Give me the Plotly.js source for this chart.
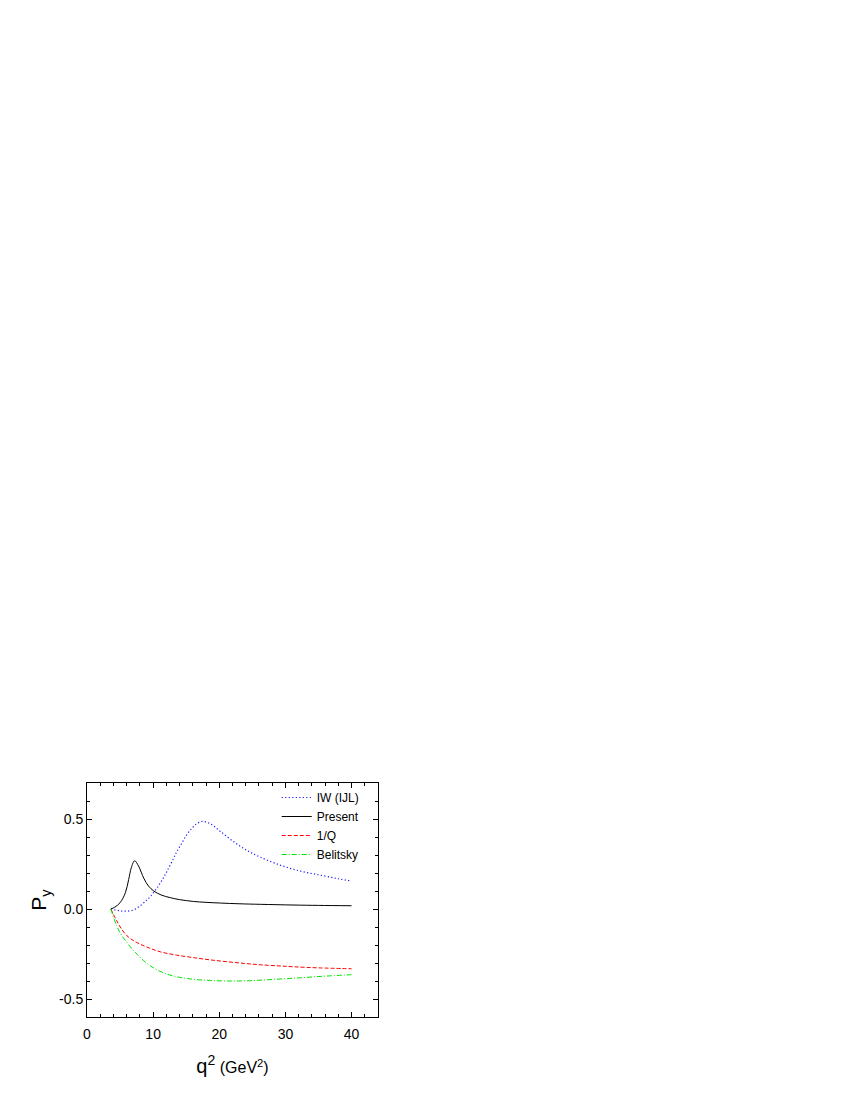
<!DOCTYPE html>
<html>
<head>
<meta charset="utf-8">
<script src="https://cdn.plot.ly/plotly-3.0.1.min.js"></script>
<style>
  body { margin: 0; background: #fff; }
  #chart { width: 850px; height: 1100px; }
</style>
</head>
<body>
<div id="chart"></div>
<script>
// values
const iwX = [3.6, 4.5, 5.2, 6.0, 7.0, 8.0, 9.0, 9.6, 10.6, 11.5, 12.1, 13.0, 13.6, 14.4, 15.1, 15.9, 16.6, 17.5, 18.7, 20.2, 22.2, 24.2, 26.2, 29.2, 32.3, 35.3, 38.0, 40.0];
const iwY = [0.0, -0.007, -0.011, -0.012, -0.006, 0.017, 0.048, 0.07, 0.118, 0.17, 0.21, 0.275, 0.32, 0.37, 0.413, 0.45, 0.474, 0.487, 0.472, 0.43, 0.373, 0.325, 0.288, 0.244, 0.21, 0.188, 0.168, 0.155];

const presentX = [3.6, 4.2, 5.0, 5.8, 6.3, 6.7, 7.2, 7.8, 8.6, 9.3, 10.1, 11.2, 12.6, 14.0, 16.1, 18.0, 20.2, 23.0, 26.2, 31.3, 35.0, 40.0];
const presentY = [0.0, 0.01, 0.035, 0.09, 0.164, 0.229, 0.268, 0.238, 0.17, 0.127, 0.10, 0.078, 0.063, 0.052, 0.042, 0.037, 0.033, 0.029, 0.026, 0.022, 0.02, 0.018];

const oneQX = [3.6, 4.5, 5.2, 6.05, 7.0, 8.07, 9.5, 11.1, 13.5, 16.1, 18.5, 21.2, 24.0, 26.2, 29.0, 31.3, 35.0, 40.0];
const oneQY = [0.0, -0.066, -0.11, -0.149, -0.175, -0.196, -0.218, -0.238, -0.256, -0.27, -0.282, -0.293, -0.303, -0.31, -0.316, -0.321, -0.327, -0.332];

const belX = [3.6, 4.5, 5.2, 6.05, 6.8, 7.56, 8.5, 9.6, 10.8, 12.1, 13.5, 15.1, 16.8, 18.7, 21.2, 24.2, 28.2, 32.3, 36.0, 40.0];
const belY = [0.0, -0.094, -0.145, -0.186, -0.222, -0.251, -0.285, -0.316, -0.342, -0.362, -0.376, -0.386, -0.393, -0.397, -0.40, -0.399, -0.391, -0.382, -0.373, -0.365];

const seriesNames = ["IW (IJL)", "Present", "1/Q", "Belitsky"];

const xTickVals = [0, 10, 20, 30, 40];
const yTickVals = [-0.5, 0.0, 0.5];
const yTickText = ["-0.5", "0.0", "0.5"];

const traces = [
    { x: iwX, y: iwY, name: seriesNames[0], mode: "lines",
      line: { color: "#1a1aff", width: 1.2, dash: "1.2px,2.3px", shape: "spline" } },
    { x: presentX, y: presentY, name: seriesNames[1], mode: "lines",
      line: { color: "#000000", width: 1, shape: "spline" } },
    { x: oneQX, y: oneQY, name: seriesNames[2], mode: "lines",
      line: { color: "#ff0000", width: 1, dash: "4px,2px", shape: "spline" } },
    { x: belX, y: belY, name: seriesNames[3], mode: "lines",
      line: { color: "#00e600", width: 1, dash: "5px,2px,1px,2px", shape: "spline" } }
];

const axisCommon = {
    showline: true, linecolor: "#000", linewidth: 1, mirror: "allticks",
    ticks: "inside", ticklen: 5, tickcolor: "#000", tickwidth: 1,
    showgrid: false, zeroline: false,
    tickfont: { family: "Liberation Sans, Arial, sans-serif", size: 14, color: "#000" }
};

const layout = {
    width: 850, height: 1100,
    margin: { l: 87, r: 472, t: 783, b: 83 },
    paper_bgcolor: "#fff", plot_bgcolor: "#fff",
    font: { family: "Liberation Sans, Arial, sans-serif", color: "#000" },
    xaxis: Object.assign({}, axisCommon, {
        range: [0, 44], tickvals: xTickVals, ticklabelstandoff: 4,
        minor: { dtick: 2, tick0: 0, ticks: "inside", ticklen: 3, tickcolor: "#000" },
        title: { text: "q<sup>2</sup><span style='font-size:16px'> (GeV<sup>2</sup>)</span>", font: { size: 20 }, standoff: 18 }
    }),
    yaxis: Object.assign({}, axisCommon, {
        range: [-0.6, 0.7], tickvals: yTickVals, ticktext: yTickText,
        minor: { dtick: 0.1, tick0: 0, ticks: "inside", ticklen: 3, tickcolor: "#000" },
        title: { text: "P<sub>y</sub>", font: { size: 21 }, standoff: 6 }
    }),
    showlegend: true,
    legend: {
        x: 0.652, y: 1.0, xanchor: "left", yanchor: "top",
        bgcolor: "rgba(0,0,0,0)", borderwidth: 0,
        font: { size: 12, color: "#000" },
        tracegroupgap: 0, itemwidth: 30
    }
};

Plotly.newPlot("chart", traces, layout, { staticPlot: true });
</script>
</body>
</html>
